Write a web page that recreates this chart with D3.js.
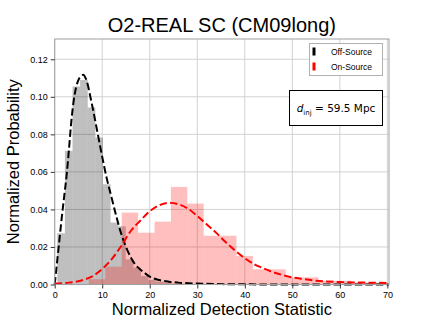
<!DOCTYPE html>
<html>
  <head>
    <meta charset="utf-8">
    <style>
    body { margin: 0; border: 0; overflow: hidden; background: #fff; }
    text { font-family: "Liberation Sans", Arial, sans-serif; fill: #000; }
    .axis text { font-size: 9px; }
    .axis path { display: none; }
    .axis line { stroke: #000; stroke-width: 0.8px; }
    .grid line { stroke: #d2d2d2; stroke-width: 1px; }
    </style>
  </head>
  <body>
    <script src="https://cdnjs.cloudflare.com/ajax/libs/d3/7.8.5/d3.min.js"></script>
    <script>
var width = 432,
    height = 324,
    margin = ({top: 39, right: 43, bottom: 39.5, left: 54.7});

// off-source histogram (left bin edges, density)
var offLeft = [0.55, 2.15, 3.75, 5.35, 6.95, 8.55, 10.15, 11.75, 13.35, 14.95, 16.55, 18.15, 19.75, 21.35, 22.95, 24.55, 26.15];
var offHeight = [0.0273, 0.0712, 0.1055, 0.109, 0.0943, 0.0783, 0.0534, 0.033, 0.031, 0.0134, 0.009, 0.0045, 0.0024, 0.0015, 0.001, 0.0006, 0.0004];
var offWidth = 1.6;

// on-source histogram
var onLeft = [7.2, 10.65, 14.1, 17.55, 21.0, 24.45, 27.9, 31.35, 34.8, 38.25, 41.7, 45.15, 48.6, 52.05, 55.5, 58.95, 62.4, 65.85];
var onHeight = [0.0028, 0.0095, 0.0383, 0.0276, 0.0335, 0.052, 0.0431, 0.026, 0.026, 0.0152, 0.0081, 0.0081, 0.0038, 0.0038, 0.002, 0.002, 0.001, 0.001];
var onWidth = 3.45;

// fitted curves
var offCurveX = [0, 0.5, 1, 1.5, 2, 2.5, 3, 3.5, 4, 4.5, 5, 5.5, 6, 6.5, 7, 7.5, 8, 9, 10, 11, 12, 13, 14, 15, 16, 17, 18, 19, 20, 22, 24, 26, 30, 35, 40, 50, 70.3];
var offCurveY = [0, 0.012, 0.024, 0.036, 0.047, 0.058, 0.072, 0.087, 0.098, 0.105, 0.109, 0.111, 0.1117, 0.110, 0.106, 0.100, 0.094, 0.081, 0.068, 0.056, 0.046, 0.036, 0.027, 0.020, 0.0145, 0.0105, 0.008, 0.006, 0.0042, 0.0024, 0.0015, 0.001, 0.0005, 0.0002, 0.0001, 0, 0];

var onCurveX = [0, 3, 6, 8, 10, 12, 14, 16, 18, 20, 22, 24, 26, 28, 30, 32, 34, 36, 38, 40, 42, 44, 46, 48, 50, 52, 55, 60, 65, 70.3];
var onCurveY = [0.0005, 0.001, 0.0024, 0.0045, 0.0083, 0.0135, 0.0205, 0.0285, 0.034, 0.039, 0.0422, 0.0435, 0.0428, 0.0405, 0.0365, 0.032, 0.0275, 0.0225, 0.018, 0.014, 0.0108, 0.0085, 0.0065, 0.005, 0.0038, 0.003, 0.002, 0.0013, 0.001, 0.0008];

var xTicks = [0, 10, 20, 30, 40, 50, 60, 70];
var yTicks = [0, 0.02, 0.04, 0.06, 0.08, 0.10, 0.12];

var x = d3.scaleLinear().domain([0, 70.34]).range([margin.left, width - margin.right]),
    y = d3.scaleLinear().domain([0, 0.1308]).range([height - margin.bottom, margin.top]);

var svg = d3.select("body").append("svg")
    .attr("width", width)
    .attr("height", height);

// grid
svg.append("g").attr("class", "grid")
  .selectAll("line.gx").data(xTicks).enter().append("line")
    .attr("x1", d => x(d)).attr("x2", d => x(d))
    .attr("y1", y.range()[0]).attr("y2", y.range()[1]);
svg.append("g").attr("class", "grid")
  .selectAll("line.gy").data(yTicks).enter().append("line")
    .attr("y1", d => y(d)).attr("y2", d => y(d))
    .attr("x1", x.range()[0]).attr("x2", x.range()[1]);

// histograms
svg.append("g").selectAll("rect").data(offLeft).enter().append("rect")
    .attr("x", d => x(d))
    .attr("width", d => x(d + offWidth) - x(d))
    .attr("y", (d, i) => y(offHeight[i]))
    .attr("height", (d, i) => y(0) - y(offHeight[i]))
    .attr("fill", "#000")
    .attr("fill-opacity", 0.25);

svg.append("g").selectAll("rect").data(onLeft).enter().append("rect")
    .attr("x", d => x(d))
    .attr("width", d => x(d + onWidth) - x(d))
    .attr("y", (d, i) => y(onHeight[i]))
    .attr("height", (d, i) => y(0) - y(onHeight[i]))
    .attr("fill", "#ff0000")
    .attr("fill-opacity", 0.25);

// curves
var line = d3.line().curve(d3.curveMonotoneX);

svg.append("path")
    .attr("d", line(offCurveX.map((d, i) => [x(d), y(offCurveY[i])])))
    .attr("fill", "none")
    .attr("stroke", "#000")
    .attr("stroke-width", 2)
    .attr("stroke-dasharray", "7.4,3.2");

svg.append("path")
    .attr("d", line(onCurveX.map((d, i) => [x(d), y(onCurveY[i])])))
    .attr("fill", "none")
    .attr("stroke", "#ff0000")
    .attr("stroke-width", 2)
    .attr("stroke-dasharray", "7.4,3.2");

// frame
svg.append("rect")
    .attr("x", x.range()[0]).attr("y", y.range()[1])
    .attr("width", x.range()[1] - x.range()[0])
    .attr("height", y.range()[0] - y.range()[1])
    .attr("fill", "none")
    .attr("stroke", "#a0a0a0")
    .attr("stroke-width", 1);

// axes
svg.append("g")
    .attr("class", "axis")
    .attr("transform", "translate(0," + y.range()[0] + ")")
    .call(d3.axisBottom(x).tickValues(xTicks).tickSize(4).tickPadding(3).tickFormat(d3.format("d")));

svg.append("g")
    .attr("class", "axis")
    .attr("transform", "translate(" + x.range()[0] + ",0)")
    .call(d3.axisLeft(y).tickValues(yTicks).tickSize(4).tickPadding(3).tickFormat(d3.format(".2f")));

// title and labels
svg.append("text")
    .attr("x", (x.range()[0] + x.range()[1]) / 2)
    .attr("y", 32)
    .attr("text-anchor", "middle")
    .style("font-size", "20px")
    .text("O2-REAL SC (CM09long)");

svg.append("text")
    .attr("x", (x.range()[0] + x.range()[1]) / 2)
    .attr("y", 315)
    .attr("text-anchor", "middle")
    .style("font-size", "16.5px")
    .text("Normalized Detection Statistic");

svg.append("text")
    .attr("transform", "translate(19," + ((y.range()[0] + y.range()[1]) / 2) + ") rotate(-90)")
    .attr("text-anchor", "middle")
    .style("font-size", "16.5px")
    .text("Normalized Probability");

// legend
var leg = svg.append("g");
leg.append("rect")
    .attr("x", 309.5).attr("y", 43.5)
    .attr("width", 73).attr("height", 32)
    .attr("fill", "#fff")
    .attr("stroke", "#b0b0b0");
var legItems = [["Off-Source", "#000"], ["On-Source", "#ff0000"]];
legItems.forEach(function(d, i) {
  leg.append("rect")
    .attr("x", 312.5).attr("y", 47.5 + i * 15)
    .attr("width", 3).attr("height", 8)
    .attr("fill", d[1]);
  leg.append("text")
    .attr("x", 331).attr("y", 55 + i * 15)
    .style("font-size", "8.5px")
    .text(d[0]);
});

// distance box
var box = svg.append("g");
box.append("rect")
    .attr("x", 289.5).attr("y", 90.5)
    .attr("width", 93).attr("height", 35)
    .attr("fill", "#fff")
    .attr("stroke", "#000");
var bt = box.append("text")
    .attr("x", 336).attr("y", 112)
    .attr("text-anchor", "middle")
    .style("font-family", "'DejaVu Sans', sans-serif")
    .style("font-size", "10.5px");
bt.append("tspan").style("font-style", "italic").text("d");
bt.append("tspan").attr("dy", 2.5).style("font-size", "7px").text("inj");
bt.append("tspan").attr("dy", -2.5).text(" = 59.5 Mpc");
    </script>
  </body>
</html>
